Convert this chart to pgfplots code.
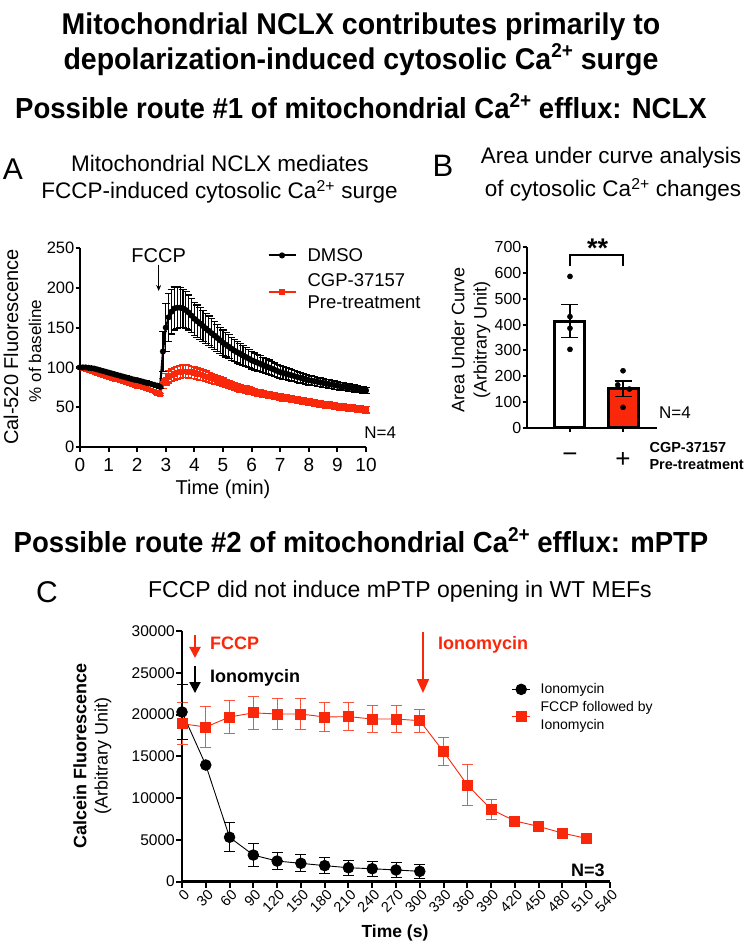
\documentclass[border=0pt]{standalone}
\usepackage{fontspec}
\setmainfont{Liberation Sans}
\newfontfamily\narrowfont[FakeStretch=0.95]{Liberation Sans}
\usepackage{pgfplots}
\pgfplotsset{compat=1.18}
\usepackage{pgfplotstable}
\usetikzlibrary{arrows.meta}
\definecolor{gred}{RGB}{250,40,10}
\newcommand{\fs}[1]{\fontsize{#1}{#1}\selectfont}
\newcommand{\bsup}{\raisebox{0.40em}{\fontsize{20}{20}\selectfont\bfseries 2+}}

\pgfplotstableread{
t y e
0.0 100 1
0.1 100 1
0.2 100 1
0.3 99.5 1
0.4 99 1
0.5 98.5 1
0.6 97.5 1.2
0.7 96.5 1.2
0.8 95.5 1.2
0.9 94.5 1.3
1.0 93.5 1.3
1.1 92.5 1.4
1.2 91.5 1.4
1.3 90.5 1.5
1.4 89.5 1.5
1.5 88.5 1.5
1.6 87.5 1.6
1.7 86.5 1.6
1.8 85.5 1.7
1.9 84.5 1.7
2.0 84 1.8
2.1 83 1.8
2.2 82 1.9
2.3 81 1.9
2.4 80 2
2.5 79 2
2.6 78 2
2.7 77 2.1
2.8 75.5 2.2
2.9 120 25
3.0 150 30
3.1 163 30
3.2 170 28
3.3 174 27
3.4 175 26
3.5 175 25
3.6 174 24
3.7 172 23
3.8 169 22
3.9 165 21.5
4.0 161 21
4.1 158 20.5
4.2 155 20
4.3 152 19.5
4.4 149 19
4.5 146 18.5
4.6 143 18
4.7 140 17.5
4.8 137 17
4.9 134 16.5
5.0 131 16
5.1 128.5 15.5
5.2 126 15
5.3 123.5 14.5
5.4 121 14
5.5 119 13.5
5.6 117 13
5.7 115 12.5
5.8 113 12
5.9 111 11.5
6.0 109 11
6.1 107.5 10.7
6.2 106 10.4
6.3 104.5 10.1
6.4 103 9.8
6.5 101.5 9.5
6.6 100 9.2
6.7 98.5 8.9
6.8 97 8.6
6.9 95.5 8.3
7.0 94 8
7.1 93 7.8
7.2 92 7.6
7.3 91 7.4
7.4 90 7.2
7.5 89 7
7.6 88 6.8
7.7 87 6.6
7.8 86 6.4
7.9 85 6.2
8.0 84 6
8.1 83.3 5.9
8.2 82.6 5.8
8.3 81.9 5.7
8.4 81.2 5.6
8.5 80.5 5.5
8.6 79.8 5.4
8.7 79.1 5.3
8.8 78.4 5.2
8.9 77.7 5.1
9.0 77 5
9.1 76.4 4.9
9.2 75.8 4.8
9.3 75.2 4.7
9.4 74.6 4.6
9.5 74 4.5
9.6 73.4 4.4
9.7 72.8 4.3
9.8 72.2 4.2
9.9 71.6 4.1
10.0 71 4
}\dmso

\pgfplotstableread{
t y e
0.0 100 1
0.1 98.8 1
0.2 97.6 1
0.3 96.4 1
0.4 95.2 1
0.5 94 1
0.6 92.8 1
0.7 91.6 1
0.8 90.4 1
0.9 89.2 1
1.0 88 1.2
1.1 86.9 1.2
1.2 85.8 1.2
1.3 84.7 1.2
1.4 83.6 1.2
1.5 82.5 1.3
1.6 81.4 1.3
1.7 80.3 1.3
1.8 79.2 1.3
1.9 78.1 1.3
2.0 77 1.4
2.1 75.8 1.4
2.2 74.6 1.4
2.3 73.4 1.4
2.4 72.2 1.5
2.5 71 1.5
2.6 69.5 1.5
2.7 68 1.6
2.8 66 1.6
2.9 80 6
3.0 85 7
3.1 88 7.5
3.2 90 8
3.3 92 8
3.4 93.5 8
3.5 94.5 8
3.6 95 8
3.7 95 8
3.8 94.5 7.8
3.9 94 7.6
4.0 93 7.4
4.1 92 7.2
4.2 91 7
4.3 90 6.8
4.4 88.8 6.6
4.5 87.6 6.4
4.6 86.4 6.2
4.7 85.2 6
4.8 84 5.8
4.9 82.6 5.6
5.0 81.2 5.4
5.1 80 5.3
5.2 78.8 5.2
5.3 77.6 5.1
5.4 76.4 5
5.5 75.2 4.9
5.6 74 4.8
5.7 73 4.7
5.8 72 4.6
5.9 71 4.5
6.0 70 4.4
6.1 69.2 4.3
6.2 68.4 4.2
6.3 67.6 4.2
6.4 66.8 4.1
6.5 66 4.1
6.6 65.3 4
6.7 64.6 4
6.8 63.9 4
6.9 63.2 4
7.0 62.5 4
7.1 61.9 4
7.2 61.3 4
7.3 60.7 4
7.4 60.1 4
7.5 59.5 4
7.6 58.9 4
7.7 58.3 4
7.8 57.7 4
7.9 57.1 4
8.0 56.5 4
8.1 55.9 4
8.2 55.3 4
8.3 54.7 4
8.4 54.1 4
8.5 53.5 4
8.6 53 4
8.7 52.5 4
8.8 52 4
8.9 51.5 4
9.0 51 4
9.1 50.5 4
9.2 50 4
9.3 49.6 4
9.4 49.2 4
9.5 48.8 4
9.6 48.4 4
9.7 48 4
9.8 47.6 4
9.9 47.2 4
10.0 46.8 4
}\cgp

\pgfplotstableread{
t y e
0 20300 3300
30 13950 0
60 5300 1750
90 3170 1350
120 2450 1050
150 2180 1000
180 1900 950
210 1650 900
240 1530 900
270 1380 850
300 1220 850
}\iono

\pgfplotstableread{
t y e
0 18900 2500
30 18500 2400
60 19700 2000
90 20200 2000
120 20060 1900
150 20060 1850
180 19700 1700
210 19750 1650
240 19460 1600
270 19460 1600
300 19260 1400
330 15550 1700
360 11560 2400
390 8640 1200
420 7250 450
450 6600 500
480 5800 300
510 5170 200
}\fccp

\pgfplotsset{/pgf/number format/assume math mode=true}

\begin{document}
\begin{tikzpicture}
\path[use as bounding box] (0,0) rectangle (744pt,-945pt);

% ---------- headings ----------
\node[font=\narrowfont\bfseries\fs{30}] at (361pt,-27pt) {Mitochondrial NCLX contributes primarily to};
\node[font=\narrowfont\bfseries\fs{30}] at (361pt,-60pt) {depolarization-induced cytosolic Ca\bsup{} surge};
\node[font=\narrowfont\bfseries\fs{29}] at (361pt,-106pt) {Possible route \#1 of mitochondrial Ca\bsup{} efflux: NCLX};
\node[font=\narrowfont\bfseries\fs{29}] at (361pt,-540pt) {Possible route \#2 of mitochondrial Ca\bsup{} efflux: mPTP};

% ---------- Panel A ----------
\node[font=\fs{30}] at (13pt,-169pt) {A};
\node[font=\fs{22.5}] at (220pt,-163pt) {Mitochondrial NCLX mediates};
\node[font=\fs{22.5}] at (219.5pt,-192pt) {FCCP-induced cytosolic Ca\textsuperscript{2+} surge};
\node[font=\fs{20}, rotate=90] at (11pt,-347pt) {Cal-520 Fluorescence};
\node[font=\fs{17}, rotate=90] at (35pt,-351pt) {\% of baseline};
\node[font=\fs{20}] at (223pt,-489pt) {Time (min)};

\begin{axis}[at={(80pt,-447pt)}, anchor=south west, scale only axis,
  width=286pt, height=199pt, xmin=0, xmax=10, ymin=0, ymax=250, clip=false,
  axis lines=left, axis line style={line width=2.2pt,-},
  xtick={0,1,...,10}, ytick={0,50,...,250},
  tick align=outside, major tick length=4.5pt, tick style={line width=2pt,black},
  xticklabel style={font=\fs{19}, inner sep=1pt, yshift=-6pt},
  yticklabel style={font=\fs{16.5}, inner sep=1pt},
  legend style={draw=none, fill=none, at={(0.655,1.005)}, anchor=north west,
    font=\fontsize{18.5}{22}\selectfont, row sep=9pt, inner sep=0pt,
    nodes={align=left, inner sep=1pt},
    /tikz/every odd column/.append style={column sep=10pt}},
  legend cell align=left, reverse legend,
  legend image code/.code={\draw[mark repeat=2,mark phase=2,#1] plot coordinates {(0pt,0pt) (13.5pt,0pt) (27pt,0pt)};}
]
\addplot[gred, line width=2pt, mark=square*, mark size=1.8pt,
  error bars/.cd, y dir=both, y explicit,
  error bar style={line width=1.2pt, gred}, error mark options={rotate=90, mark size=3.8pt, line width=1.2pt, gred}]
  table[x=t, y=y, y error=e] {\cgp};
\addlegendentry{CGP-37157\\Pre-treatment}
\addplot[black, line width=2pt, mark=*, mark size=2pt,
  error bars/.cd, y dir=both, y explicit,
  error bar style={line width=1.2pt, black}, error mark options={rotate=90, mark size=3.8pt, line width=1.2pt, black}]
  table[x=t, y=y, y error=e] {\dmso};
\addlegendentry{DMSO}
\draw[-{Stealth[length=6pt,width=5pt]}, line width=1pt] (axis cs:2.75,229) -- (axis cs:2.75,196);
\node[font=\fs{20}] at (axis cs:2.75,241) {FCCP};
\node[font=\fs{17}] at (axis cs:10.5,17.6) {N=4};
\end{axis}

% ---------- Panel B ----------
\node[font=\fs{31}] at (443pt,-166pt) {B};
\node[font=\fs{22.5}] at (611pt,-158pt) {Area under curve analysis};
\node[font=\fs{22.5}] at (613pt,-190pt) {of cytosolic Ca\textsuperscript{2+} changes};
\node[font=\fs{18}, rotate=90] at (458pt,-340pt) {Area Under Curve};
\node[font=\fs{18}, rotate=90] at (482pt,-340pt) {(Arbitrary Unit)};
\node[font=\bfseries\fs{14.5}, anchor=west] at (646pt,-448pt) {CGP-37157};
\node[font=\bfseries\fs{14.5}, anchor=west] at (646pt,-465pt) {Pre-treatment};

\begin{axis}[at={(527pt,-427.7pt)}, anchor=south west, scale only axis,
  width=130pt, height=180.4pt, xmin=-0.81, xmax=1.64, ymin=0, ymax=700, clip=false,
  axis lines=left, axis line style={line width=2.2pt,-},
  xtick={0,1}, xticklabels={−,+}, ytick={0,100,...,700},
  tick align=outside, major tick length=4.5pt, tick style={line width=2pt,black},
  xticklabel style={font=\fs{26}, yshift=-17pt},
  yticklabel style={font=\fs{16}, inner sep=1pt}
]
\addplot[ybar, bar shift=0pt, bar width=30pt, draw=black, line width=3pt, fill=white] coordinates {(0,414)};
\addplot[ybar, bar shift=0pt, bar width=30pt, draw=black, line width=3pt, fill=gred] coordinates {(1,151)};
\addplot[draw=none, mark=none, error bars/.cd, y dir=both, y explicit,
  error bar style={line width=1.3pt, black}, error mark options={rotate=90, mark size=8.5pt, line width=1.3pt, black}]
  coordinates {(0,414) +- (0,63) (1,151) +- (0,30)};
\addplot[only marks, mark=*, mark size=2.6pt, black] coordinates {
  (0,587) (0,431) (0,386) (0,304) (1,221) (0.9,166) (1.12,150) (1,79)};
\draw[line width=2pt] (axis cs:0,627) -- (axis cs:0,670) -- (axis cs:1,670) -- (axis cs:1,627);
\node[font=\bfseries\fs{27}] at (axis cs:0.52,697) {**};
\node[font=\fs{17}] at (axis cs:1.98,60) {N=4};
\end{axis}

% ---------- Panel C ----------
\node[font=\fs{30}] at (47pt,-592pt) {C};
\node[font=\fs{23}] at (400pt,-592pt) {FCCP did not induce mPTP opening in WT MEFs};
\node[font=\bfseries\fs{18}, rotate=90] at (80pt,-756pt) {Calcein Fluorescence};
\node[font=\fs{18}, rotate=90] at (103pt,-756pt) {(Arbitrary Unit)};
\node[font=\bfseries\fs{17.5}] at (395pt,-933pt) {Time (s)};

\begin{axis}[at={(182pt,-881.5pt)}, anchor=south west, scale only axis,
  width=428pt, height=250.5pt, xmin=0, xmax=540, ymin=0, ymax=30000, clip=false,
  axis lines=left, axis line style={line width=2.4pt,-},
  xtick={0,30,...,540}, ytick={0,5000,...,30000}, scaled y ticks=false,
  tick align=outside, major tick length=6pt, tick style={line width=2pt,black},
  xticklabel style={font=\fs{14.5}, rotate=45, anchor=east, inner sep=1pt, yshift=-7pt, xshift=1pt},
  yticklabel style={font=\fs{15.5}, inner sep=1pt, /pgf/number format/1000 sep={}},
  legend style={draw=none, fill=none, at={(0.77,0.795)}, anchor=north west,
    font=\fontsize{14}{18}\selectfont, row sep=4pt, inner sep=0pt,
    nodes={align=left, inner sep=1pt},
    /tikz/every odd column/.append style={column sep=9pt}},
  legend cell align=left, reverse legend,
  legend image code/.code={\draw[mark repeat=2,mark phase=2,#1] plot coordinates {(0pt,0pt) (9pt,0pt) (18pt,0pt)};}
]
\addplot[gred, line width=0.9pt, mark=square*, mark size=5pt,
  error bars/.cd, y dir=both, y explicit,
  error bar style={line width=1pt, gred!80}, error mark options={rotate=90, mark size=5.5pt, line width=1pt, gred!80}]
  table[x=t, y=y, y error=e] {\fccp};
\addlegendentry{FCCP followed by\\Ionomycin}
\addplot[black, line width=0.9pt, mark=*, mark size=5.3pt,
  error bars/.cd, y dir=both, y explicit,
  error bar style={line width=1pt, black}, error mark options={rotate=90, mark size=5.5pt, line width=1pt, black}]
  table[x=t, y=y, y error=e] {\iono};
\addlegendentry{Ionomycin}
\draw[-{Triangle[length=11pt,width=11pt]}, gred, line width=2pt] (axis cs:16.4,29520) -- (axis cs:16.4,26770);
\draw[-{Triangle[length=11pt,width=11pt]}, black, line width=2pt] (axis cs:16.4,25810) -- (axis cs:16.4,22570);
\draw[-{Triangle[length=14pt,width=12pt]}, gred, line width=2pt] (axis cs:304,29880) -- (axis cs:304,22570);
\node[font=\bfseries\fs{18}, text=gred, anchor=west, inner sep=0pt] at (axis cs:35.3,28500) {FCCP};
\node[font=\bfseries\fs{18}, text=black, anchor=west, inner sep=0pt] at (axis cs:35.3,24400) {Ionomycin};
\node[font=\bfseries\fs{18}, text=gred, anchor=west, inner sep=0pt] at (axis cs:323,28400) {Ionomycin};
\node[font=\bfseries\fs{18}] at (axis cs:512,1380) {N=3};
\end{axis}
\end{tikzpicture}
\end{document}
